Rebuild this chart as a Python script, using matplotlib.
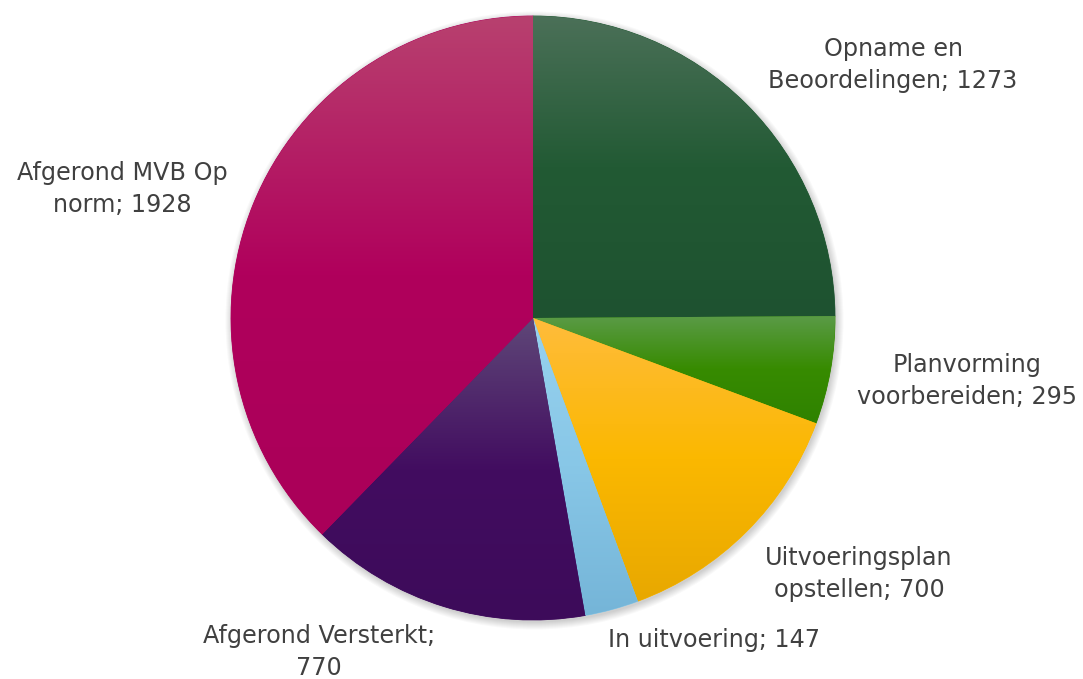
import numpy as np
import matplotlib
matplotlib.use("Agg")
import matplotlib.pyplot as plt
from matplotlib.colors import LinearSegmentedColormap
from matplotlib.patches import Circle

# data
categories = ["Opname en\nBeoordelingen", "Planvorming\nvoorbereiden",
              "Uitvoeringsplan\nopstellen", "In uitvoering",
              "Afgerond Versterkt;\n", "Afgerond MVB Op\nnorm"]
values = [1273, 295, 700, 147, 770, 1928]

# gradient colours per slice: top, middle, bottom
grad_colors = [
    ("#4b7058", "#225a34", "#1e5230"),
    ("#5b9b48", "#378b00", "#2f8200"),
    ("#ffbc3c", "#fbb800", "#e8a800"),
    ("#97d1ee", "#88c7e7", "#75b5d8"),
    ("#5f4778", "#420d60", "#3d0b5a"),
    ("#b8416f", "#b0005c", "#aa0059"),
]

# label centres (pixel coords, y from top)
label_pos = [(893, 65), (967, 381), (859, 574), (714, 640), (319, 652), (122, 189)]

W, H = 1083, 679
fig = plt.figure(figsize=(W / 100, H / 100), dpi=100)
ax = fig.add_axes([0, 0, 1, 1])

cx, cy, r = 533, H - 318, 302

# soft shadow
for k in range(8):
    ax.add_patch(Circle((cx + 1.5, cy - 2.5), r + 7 - k, color="#000000",
                        alpha=0.025, lw=0, zorder=0))

wedges, _ = ax.pie(values, startangle=90, counterclock=False, center=(cx, cy),
                   radius=r, frame=True,
                   wedgeprops=dict(linewidth=0.6))

for w, (c1, c2, c3) in zip(wedges, grad_colors):
    w.set_facecolor(c2)
    w.set_edgecolor(c2)
    w.set_zorder(1)
    ext = w.get_path().get_extents()
    cmap = LinearSegmentedColormap.from_list("g", [c1, c2, c3])
    grad = np.linspace(0, 1, 256).reshape(-1, 1)
    im = ax.imshow(grad, cmap=cmap, aspect="auto", origin="upper",
                   extent=[ext.x0, ext.x1, ext.y0, ext.y1], zorder=2,
                   interpolation="bilinear")
    im.set_clip_path(w)

ax.set_xlim(0, W)
ax.set_ylim(0, H)
ax.set_aspect("equal")
ax.axis("off")

for cat, v, (x, y) in zip(categories, values, label_pos):
    if cat.endswith("\n"):
        txt = cat + str(v)
    else:
        txt = cat + "; " + str(v)
    ax.text(x, H - y, txt, ha="center", va="center", fontsize=17.2,
            color="#404040", family="DejaVu Sans", linespacing=1.37)

fig.savefig("out.png", dpi=100)
